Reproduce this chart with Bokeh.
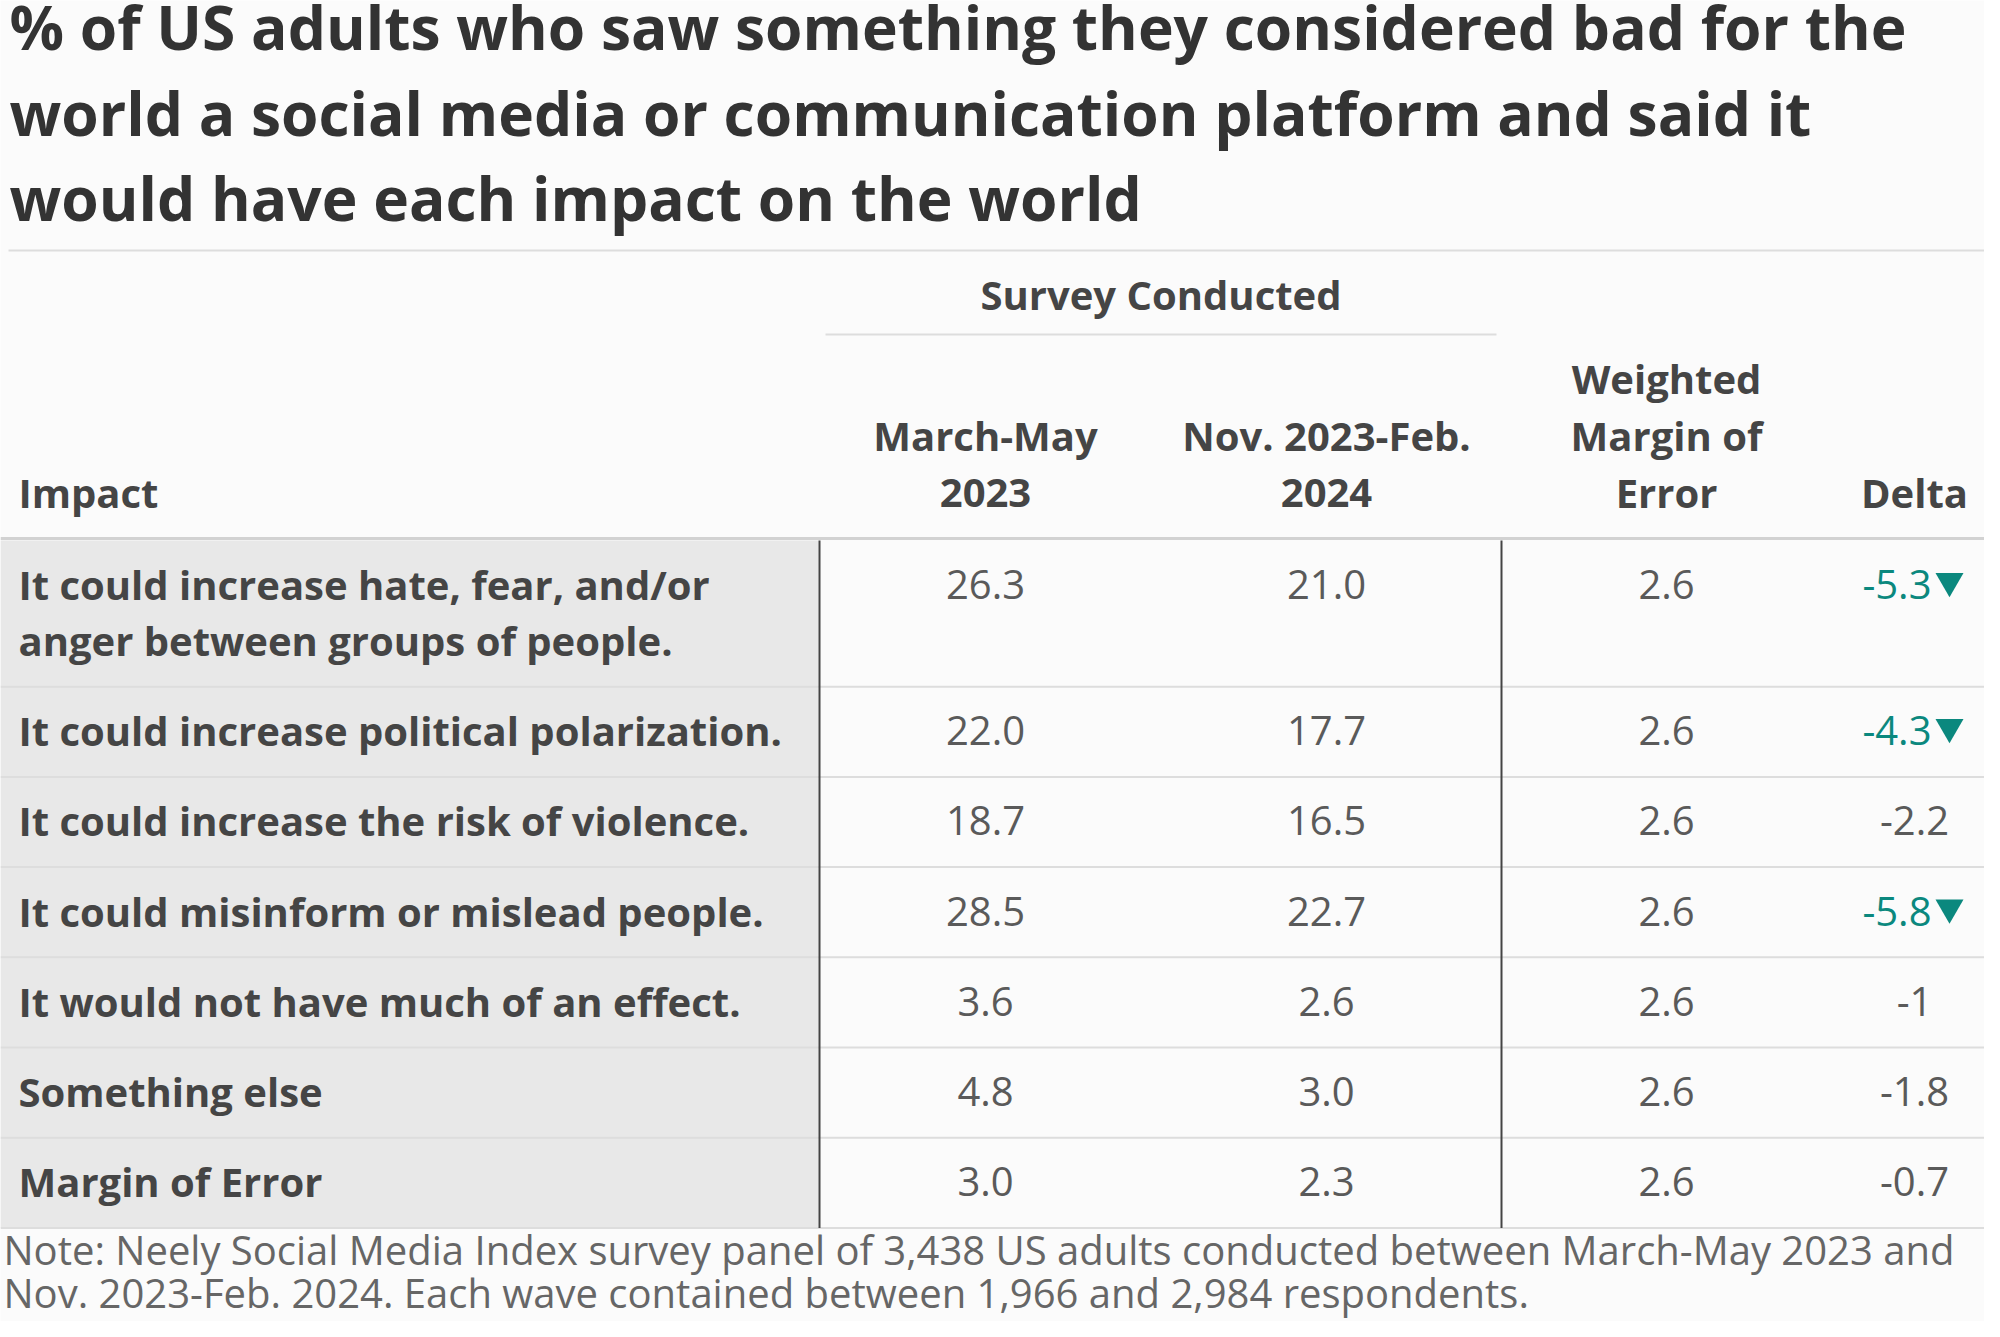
from bokeh.plotting import figure
from bokeh.models import Range1d, ColumnDataSource
from bokeh.core.properties import value
from bokeh.embed import file_html
from bokeh.resources import INLINE

# ---------------- data ----------------
title_lines = [
    "% of US adults who saw something they considered bad for the",
    "world a social media or communication platform and said it",
    "would have each impact on the world",
]
group_header = "Survey Conducted"
col_headers = [
    ["Impact"],
    ["March-May", "2023"],
    ["Nov. 2023-Feb.", "2024"],
    ["Weighted", "Margin of", "Error"],
    ["Delta"],
]
impacts = [
    "It could increase hate, fear, and/or\nanger between groups of people.",
    "It could increase political polarization.",
    "It could increase the risk of violence.",
    "It could misinform or mislead people.",
    "It would not have much of an effect.",
    "Something else",
    "Margin of Error",
]
march_may = [26.3, 22.0, 18.7, 28.5, 3.6, 4.8, 3.0]
nov_feb = [21.0, 17.7, 16.5, 22.7, 2.6, 3.0, 2.3]
weighted_moe = [2.6, 2.6, 2.6, 2.6, 2.6, 2.6, 2.6]
delta = [-5.3, -4.3, -2.2, -5.8, -1, -1.8, -0.7]
significant = [True, True, False, True, False, False, False]
note_lines = [
    "Note: Neely Social Media Index survey panel of 3,438 US adults conducted between March-May 2023 and",
    "Nov. 2023-Feb. 2024. Each wave contained between 1,966 and 2,984 respondents.",
]

# ---------------- layout / style ----------------
FONT = value("Open Sans")
BG = "#fbfbfb"
LABEL_BG = "#e8e8e8"
TITLE_C = "#333333"
HEAD_C = "#454545"
VAL_C = "#5a5a5a"
NOTE_C = "#666666"
TEAL = "#0b887e"
GRID_C = "#dddddd"
FS = "40px"

W, H = 1984, 1321
p = figure(width=W, height=H, output_backend="svg", toolbar_location=None,
           x_range=Range1d(0, W), y_range=Range1d(H, 0),
           min_border=0, outline_line_color=None,
           background_fill_color=BG, border_fill_color=BG)
p.axis.visible = False
p.grid.visible = False

# title
p.text(x=[9] * len(title_lines),
       y=[26 + i * 85.5 for i in range(len(title_lines))],
       text=title_lines, text_font=FONT, text_font_style="bold",
       text_font_size="60.5px", text_color=TITLE_C,
       text_align="left", text_baseline="middle")
p.segment(x0=[8], y0=[250], x1=[1995], y1=[250], line_color=GRID_C, line_width=2)

# columns
col_left = 18
col_centers = [985, 1326, 1666, 1914]
label_right = 818
vlines = [819, 1501]

# group header
p.text(x=[(825 + 1496) / 2], y=[294], text=[group_header], text_font=FONT,
       text_font_style="bold", text_font_size=FS, text_color=HEAD_C,
       text_align="center", text_baseline="middle")
p.segment(x0=[825], y0=[334], x1=[1496], y1=[334], line_color=GRID_C, line_width=2)

# column headers (bottom aligned)
hx, hy, ht, ha = [], [], [], []
head_bottom = 492
head_step = 57
for ci, lines in enumerate(col_headers):
    n = len(lines)
    for li, t in enumerate(lines):
        if ci == 0:
            hx.append(col_left); ha.append("left")
        else:
            hx.append(col_centers[ci - 1]); ha.append("center")
        hy.append(head_bottom - (n - 1 - li) * head_step)
        ht.append(t)
p.text(x=hx, y=hy, text=ht, text_align=ha, text_font=FONT, text_font_style="bold",
       text_font_size=FS, text_color=HEAD_C, text_baseline="middle")

# rows
table_top = 540
row_h = 90.2
line_step = 56
text_off = 44
tops = []
y = table_top
for lab in impacts:
    tops.append(y)
    y += row_h + line_step * (lab.count("\n"))
table_bottom = y

p.quad(left=[0], right=[label_right], top=[table_top], bottom=[table_bottom],
       fill_color=LABEL_BG, line_color=None)

# row separators
seps = tops[1:] + [table_bottom]
p.segment(x0=[0] * len(seps), y0=seps, x1=[W] * len(seps), y1=seps,
          line_color=GRID_C, line_width=2)
# header bottom border
p.segment(x0=[0], y0=[table_top - 2], x1=[W], y1=[table_top - 2],
          line_color="#d2d2d2", line_width=3)
# vertical rules
p.segment(x0=vlines, y0=[table_top] * 2, x1=vlines, y1=[table_bottom] * 2,
          line_color="#444444", line_width=2)

# labels
lx, ly, lt = [], [], []
for lab, t in zip(impacts, tops):
    for li, part in enumerate(lab.split("\n")):
        lx.append(col_left); ly.append(t + text_off + li * line_step); lt.append(part)
p.text(x=lx, y=ly, text=lt, text_font=FONT, text_font_style="bold",
       text_font_size=FS, text_color=HEAD_C, text_align="left",
       text_baseline="middle")

# values
vx, vy, vt = [], [], []
for i, t in enumerate(tops):
    for ci, arr in enumerate([march_may, nov_feb, weighted_moe]):
        vx.append(col_centers[ci]); vy.append(t + text_off); vt.append(f"{arr[i]:.1f}")
p.text(x=vx, y=vy, text=vt, text_font=FONT, text_font_size=FS,
       text_color=VAL_C, text_align="center", text_baseline="middle")

# delta: significant values get a teal down-triangle
sig_num_right = 1931
tri_x = 1949
dsrc = ColumnDataSource(dict(
    x=[sig_num_right if s else col_centers[3] for s in significant],
    y=[t + text_off for t in tops],
    text=[f"{d:g}" for d in delta],
    align=["right" if s else "center" for s in significant],
    color=[TEAL if s else VAL_C for s in significant],
))
p.text(x="x", y="y", text="text", text_color="color", text_align="align",
       source=dsrc, text_font=FONT, text_font_size=FS, text_baseline="middle")
tsrc = ColumnDataSource(dict(
    x=[tri_x for s in significant if s],
    y=[t + text_off - 3.5 for t, s in zip(tops, significant) if s],
))
p.scatter(x="x", y="y", source=tsrc, marker="inverted_triangle", size=28,
          fill_color=TEAL, line_color=None)

# note
p.text(x=[3] * len(note_lines), y=[1249 + i * 43 for i in range(len(note_lines))],
       text=note_lines, text_font=FONT, text_font_size=FS, text_color=NOTE_C,
       text_align="left", text_baseline="middle")

open("out.html", "w").write(file_html(p, INLINE))
